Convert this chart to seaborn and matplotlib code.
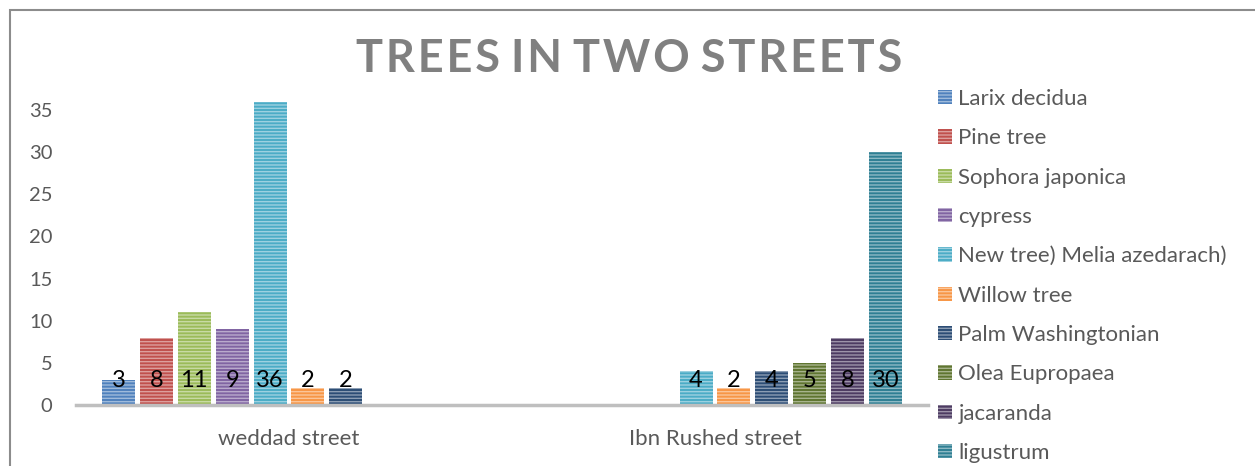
import matplotlib
matplotlib.use("Agg")
import matplotlib.pyplot as plt
import matplotlib.colors as mcolors
from matplotlib.patches import Rectangle, Patch
import seaborn as sns
import pandas as pd
import numpy as np

streets = ["weddad street", "Ibn Rushed street"]
species = ["Larix decidua", "Pine tree", "Sophora japonica", "cypress",
           "New tree) Melia azedarach)", "Willow tree", "Palm Washingtonian",
           "Olea Eupropaea", "jacaranda", "ligustrum"]
weddad_values = [3, 8, 11, 9, 36, 2, 2, None, None, None]
ibn_rushed_values = [None, None, None, None, 4, 2, 4, 5, 8, 30]
colors = ["#4F81BD", "#C0504D", "#9BBB59", "#8064A2", "#4BACC6",
          "#F79646", "#2C4D75", "#5F7530", "#4D3B62", "#2F7F93"]
y_ticks = [0, 5, 10, 15, 20, 25, 30, 35]
title = "TREES IN TWO STREETS"

rows = []
for street, vals in zip(streets, [weddad_values, ibn_rushed_values]):
    for sp, v in zip(species, vals):
        if v is not None:
            rows.append({"street": street, "species": sp, "count": v})
df = pd.DataFrame(rows)

sns.set_theme(style="white")
plt.rcParams["font.family"] = ["Lato", "DejaVu Sans"]
plt.rcParams["hatch.linewidth"] = 1.0

fig = plt.figure(figsize=(12.55, 4.66), dpi=100)
W, H = 1255, 466
ax = fig.add_axes([76 / W, (466 - 405) / H, 852 / W, 337.2 / H])

palette = dict(zip(species, colors))
sns.barplot(data=df, x="street", y="count", hue="species", order=streets,
            hue_order=species, palette=palette, width=0.89, gap=0.13,
            dodge=True, ax=ax, legend=False, saturation=1, errorbar=None)

def lighten(c, amt=0.45):
    r, g, b = mcolors.to_rgb(c)
    return (r + (1 - r) * amt, g + (1 - g) * amt, b + (1 - b) * amt)

for bar in ax.patches:
    fc = bar.get_facecolor()
    bar.set_hatch("-----")
    bar.set_edgecolor(lighten(fc))
    bar.set_linewidth(0.0)

# data labels at inside base
for bar in ax.patches:
    h = bar.get_height()
    if np.isnan(h) or bar.get_width() == 0:
        continue
    ax.annotate(f"{int(h)}", (bar.get_x() + bar.get_width() / 2, 0),
                xytext=(0, 17.5), textcoords="offset points", ha="center",
                va="center", fontsize=17, color="black")

ax.set_ylim(0, 40)
ax.set_xlim(-0.5, 1.5)
ax.set_yticks(y_ticks)
ax.set_xlabel("")
ax.set_ylabel("")
ax.tick_params(axis="y", length=0, labelsize=14.5, labelcolor="#595959", pad=17)
ax.tick_params(axis="x", length=0, labelsize=16, labelcolor="#595959", pad=17)
for s in ["top", "right", "left"]:
    ax.spines[s].set_visible(False)
ax.spines["bottom"].set_color("#BFBFBF")
ax.spines["bottom"].set_linewidth(2.5)

spaced = "\u200a".join(title).replace("\u200a \u200a", " ")
fig.text(629 / W, 1 - 59 / H, spaced, ha="center", va="center",
         fontsize=32.5, fontweight="bold", color="#808080")

# legend
handles = [Patch(facecolor=c, edgecolor=lighten(c), hatch="-----", linewidth=0)
           for c in colors]
leg = fig.legend(handles, species, loc="upper left",
                 bbox_to_anchor=(929 / W, 1 - 80 / H), frameon=False,
                 fontsize=16, labelcolor="#595959", handlelength=0.62,
                 handleheight=0.62, handletextpad=0.3, labelspacing=0.87,
                 borderaxespad=0)

# outer frame
fig.patches.append(Rectangle((10 / W, -0.1), 1.2, (1 - 10 / H) + 0.1,
                             transform=fig.transFigure, fill=False,
                             edgecolor="#8C8C8C", linewidth=1.5))

fig.savefig("out.png", dpi=100)
